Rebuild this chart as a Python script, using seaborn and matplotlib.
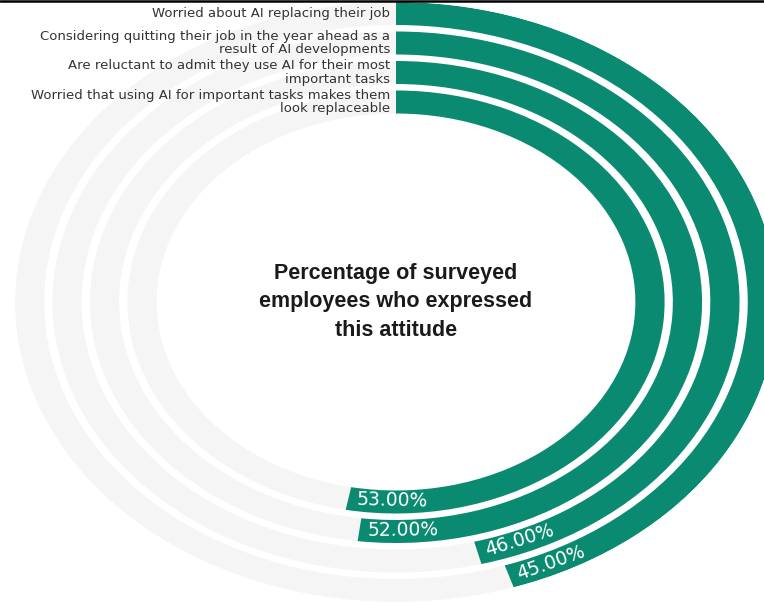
import numpy as np
import matplotlib
matplotlib.use("Agg")
import matplotlib.pyplot as plt
from matplotlib.lines import Line2D
import seaborn as sns

# ---- data (outer ring first) ----
categories = [
    "Worried about AI replacing their job",
    "Considering quitting their job in the year ahead as a\nresult of AI developments",
    "Are reluctant to admit they use AI for their most\nimportant tasks",
    "Worried that using AI for important tasks makes them\nlook replaceable",
]
values = [45, 46, 52, 53]
value_labels = ["45.00%", "46.00%", "52.00%", "53.00%"]
center_title = "Percentage of surveyed\nemployees who expressed\nthis attitude"

GREEN = "#0a8a70"
TRACK = "#f5f5f5"

sns.set_theme(style="white")
plt.rcParams["font.family"] = ["Liberation Sans", "DejaVu Sans"]

W, H = 764, 606
fig = plt.figure(figsize=(W / 100, H / 100), dpi=100)
fig.patch.set_facecolor("white")

cx, cy = 396, 302      # centre in px (from top)
ry = 300               # vertical outer radius in px
k = 1.27               # horizontal stretch
ax = fig.add_axes([(cx - ry * k) / W, (H - cy - ry) / H, 2 * ry * k / W, 2 * ry / H],
                  projection="polar")
ax.set_aspect("auto")
ax.set_theta_zero_location("N")
ax.set_theta_direction(-1)
ax.set_ylim(0, ry)
ax.grid(False)
ax.set_xticks([])
ax.set_yticks([])
ax.spines["polar"].set_visible(False)
ax.patch.set_alpha(0)

thick = 23
pitch = 29.5

for i, (cat, v, lab) in enumerate(zip(categories, values, value_labels)):
    r_out = ry - i * pitch
    r_in = r_out - thick
    r_mid = (r_out + r_in) / 2
    ax.bar(0, thick, width=2 * np.pi, bottom=r_in, align="edge",
           color=TRACK, linewidth=0)
    theta_end = v / 100 * 2 * np.pi
    ax.bar(0, thick, width=theta_end, bottom=r_in, align="edge",
           color=GREEN, linewidth=0)
    # category label at the start of the ring
    ax.annotate(cat, xy=(0, r_mid), xycoords="data", xytext=(-4, 0),
                textcoords="offset points", ha="right", va="center",
                multialignment="right", fontsize=9.5, color="#333333",
                linespacing=1.02, family=["DejaVu Sans"])
    # value label at the end of the arc, rotated along the arc
    L = 80
    dtheta = L / (k * r_mid)
    p0 = ax.transData.transform((theta_end, r_mid))
    p1 = ax.transData.transform((theta_end - dtheta, r_mid))
    rot = np.degrees(np.arctan2(p1[1] - p0[1], p1[0] - p0[0]))
    ta = theta_end - 8 / (k * r_mid)
    ax.text(ta, r_mid, lab, rotation=rot, rotation_mode="anchor",
            ha="left", va="center", color="white", fontsize=13.5,
            family=["DejaVu Sans"])

ax.text(0, 0, center_title, ha="center", va="center", fontsize=15.5,
        fontweight="bold", color="#1a1a1a", linespacing=1.5)

fig.add_artist(Line2D([0, 1], [1 - 1 / H, 1 - 1 / H], color="black", lw=1.8,
                      transform=fig.transFigure))

fig.savefig("out.png", dpi=100)
